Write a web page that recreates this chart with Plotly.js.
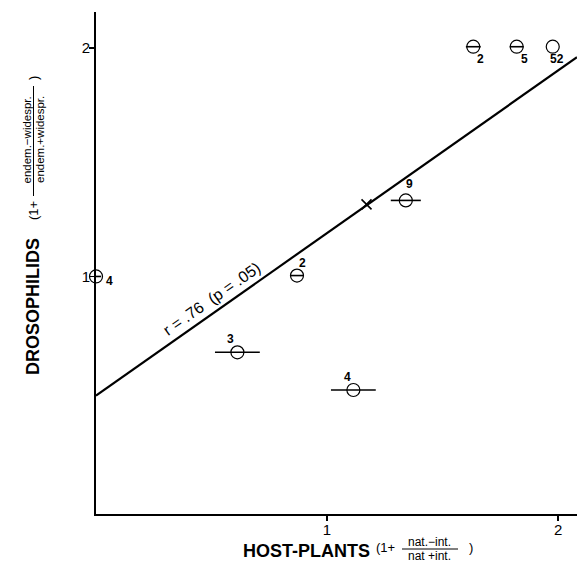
<!DOCTYPE html>
<html><head><meta charset="utf-8">
<script src="https://cdn.plot.ly/plotly-3.0.1.min.js"></script>
<style>html,body{margin:0;padding:0;background:#fff}</style>
</head><body><div id="chart" style="width:577px;height:567px"></div>
<script>
// ---- data ----
const hostPlants   = [0, 0.870, 0.612, 1.114, 1.341, 1.633, 1.821, 1.977];
const drosophilids = [1.000, 1.004, 0.668, 0.503, 1.333, 2.006, 2.006, 2.006];
const hostSpread   = [0.022, 0.028, 0.097, 0.097, 0.065, 0.032, 0.030, 0];
const sampleSizes  = ['4', '2', '3', '4', '9', '2', '5', '52'];
const fitIntercept = 0.478;
const fitSlope     = 0.712;
const fitLabel     = 'r = .76  (p = .05)';
const xTickVals = [1, 2], xTickText = ['1', '2'];
const yTickVals = [1, 2], yTickText = ['1', '2'];

// ---- presentation ----
const FONT = '"Liberation Sans", Arial, Helvetica, sans-serif';
const W = 577, H = 567;
const M = {l: 96, r: 0, t: 12, b: 53};
const xRange = [0, 2.082], yRange = [-0.04, 2.158];
const labelShift = [[13,-5],[6,13],[-7,13],[-6,13],[4,16],[7,-12],[8,-12],[4,-12]];

const meanX = hostPlants.reduce((a,b)=>a+b,0)/hostPlants.length;
const meanY = drosophilids.reduce((a,b)=>a+b,0)/drosophilids.length;

const fitX = [xRange[0], xRange[1]];
const fitY = fitX.map(x => fitIntercept + fitSlope*x);

const traces = [
  {x: fitX, y: fitY, mode: 'lines', line: {color: '#000', width: 2.2}, hoverinfo: 'skip', showlegend: false},
  {x: hostPlants, y: drosophilids, mode: 'markers', showlegend: false,
   marker: {symbol: 'circle-open', size: 13, color: '#000', line: {color: '#000', width: 1.2}},
   error_x: {type: 'data', symmetric: true, array: hostSpread, thickness: 1.6, width: 0, color: '#000'},
   cliponaxis: false},
  {x: [meanX], y: [meanY], mode: 'markers', showlegend: false,
   marker: {symbol: 'x-thin-open', size: 10, color: '#000', line: {color: '#000', width: 1.6}}}
];

const plotW = W - M.l - M.r, plotH = H - M.t - M.b;
const px = p => (p - M.l) / plotW;        // page pixel x -> paper
const py = p => (H - M.b - p) / plotH;    // page pixel y -> paper

function txt(xp, yp, text, size, opts) {
  return Object.assign({x: px(xp), y: py(yp), xref: 'paper', yref: 'paper', text: text, showarrow: false,
    xanchor: 'center', yanchor: 'middle', font: {family: FONT, size: size, color: '#000'}}, opts || {});
}

const ann = [];
sampleSizes.forEach((s, i) => {
  ann.push({x: hostPlants[i], y: drosophilids[i], xref: 'x', yref: 'y', text: s, showarrow: false,
    xanchor: 'center', yanchor: 'middle',
    xshift: labelShift[i][0], yshift: labelShift[i][1],
    font: {family: FONT, size: 12, color: '#000', weight: 'bold'}});
});
// regression label along the line
const lx = 0.502;
ann.push({x: lx, y: fitIntercept + fitSlope*lx, xref: 'x', yref: 'y', text: fitLabel, showarrow: false,
  xanchor: 'center', yanchor: 'middle',
  textangle: -35, yshift: 16, xshift: 0, font: {family: FONT, size: 16, color: '#000'}});

// y-axis title pieces
ann.push(txt(33, 307, 'DROSOPHILIDS', 18, {textangle: -90, font: {family: FONT, size: 18, color: '#000', weight: 'bold'}}));
ann.push(txt(33, 211, '(1+', 13, {textangle: -90}));
ann.push(txt(26.5, 140, 'endem.\u2212widespr.', 11.5, {textangle: -90}));
ann.push(txt(40, 140, 'endem.+widespr.', 11.5, {textangle: -90}));
ann.push(txt(33, 78, ')', 13, {textangle: -90}));

// x-axis title pieces
ann.push(txt(306, 551, 'HOST-PLANTS', 18, {font: {family: FONT, size: 18, color: '#000', weight: 'bold'}}));
ann.push(txt(385, 547, '(1+', 13));
ann.push(txt(429, 542, 'nat.\u2212int.', 12));
ann.push(txt(429, 556, 'nat +int.', 12));
ann.push(txt(471, 547, ')', 13));

const shapes = [
  {type: 'line', xref: 'paper', yref: 'paper', x0: px(33.5), x1: px(33.5), y0: py(86), y1: py(196),
   line: {color: '#000', width: 1}},
  {type: 'line', xref: 'paper', yref: 'paper', x0: px(402), x1: px(458), y0: py(549), y1: py(549),
   line: {color: '#000', width: 1}}
];

const axisCommon = {showline: true, linecolor: '#000', linewidth: 2, ticks: 'outside', ticklen: 5,
  tickwidth: 1.5, tickcolor: '#000', showgrid: false, zeroline: false, fixedrange: true,
  ticklabelstandoff: -4,
  tickfont: {family: FONT, size: 15, color: '#000'}};

const layout = {
  width: W, height: H, margin: M, paper_bgcolor: '#fff', plot_bgcolor: '#fff', showlegend: false,
  font: {family: FONT, color: '#000'},
  xaxis: Object.assign({}, axisCommon, {range: xRange, tickvals: xTickVals, ticktext: xTickText}),
  yaxis: Object.assign({}, axisCommon, {range: yRange, tickvals: yTickVals, ticktext: yTickText}),
  annotations: ann, shapes: shapes
};

Plotly.newPlot('chart', traces, layout, {staticPlot: true, displayModeBar: false});
</script></body></html>
